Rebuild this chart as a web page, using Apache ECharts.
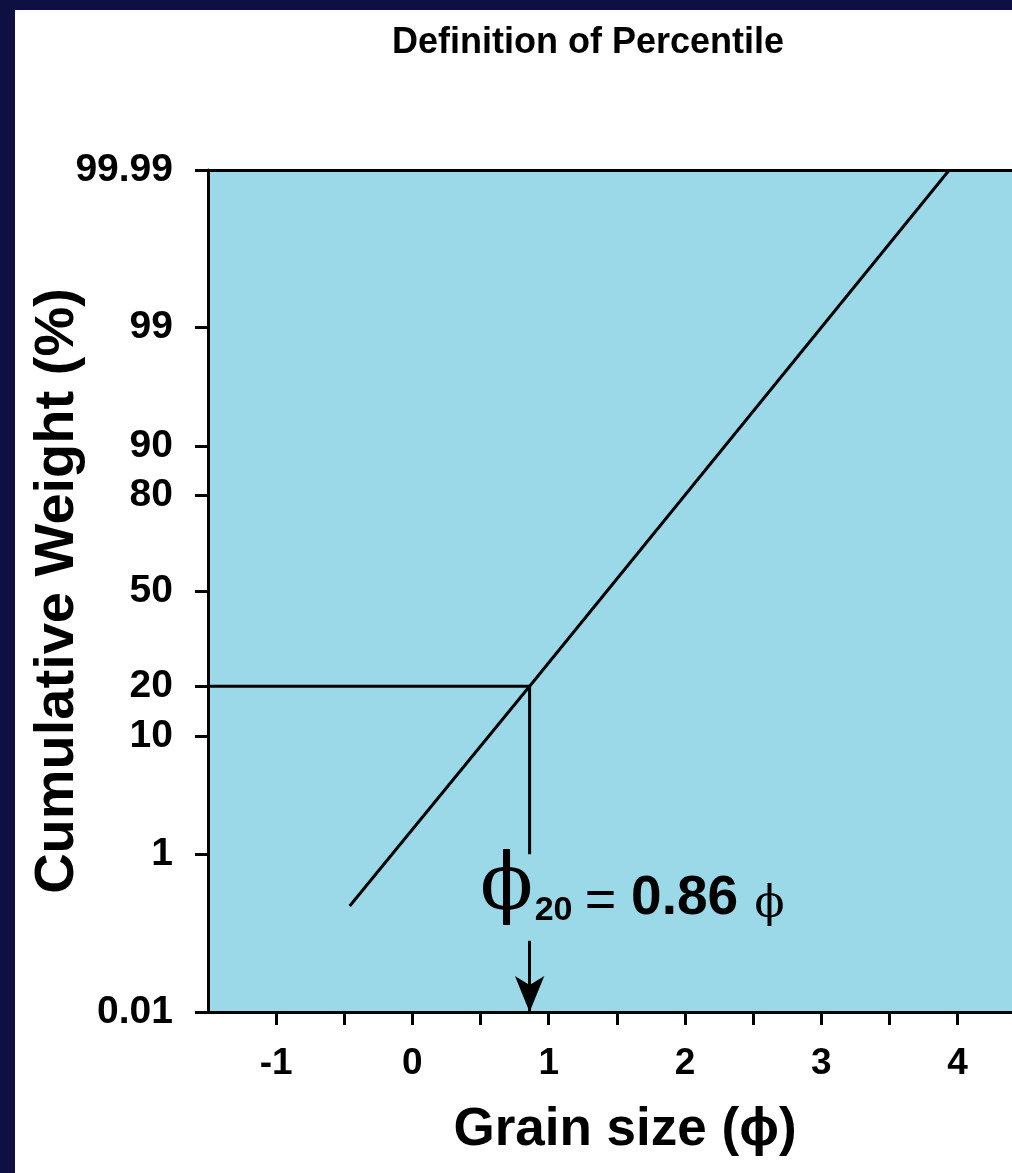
<!DOCTYPE html>
<html>
<head>
<meta charset="utf-8">
<script src="https://cdn.jsdelivr.net/npm/echarts@6/dist/echarts.min.js"></script>
<style>
html,body{margin:0;padding:0;background:#0d1040;}
#chart{width:1012px;height:1173px;}
</style>
</head>
<body>
<div id="chart"></div>
<script>
// ---- data (percent values on a probability scale) ----
const yTickPercents = [0.01, 1, 10, 20, 50, 80, 90, 99, 99.99];
const yTickLabels = ['0.01', '1', '10', '20', '50', '80', '90', '99', '99.99'];
const xTickLabels = [-1, 0, 1, 2, 3, 4];
const xMinorTicks = [-1, -0.5, 0, 0.5, 1, 1.5, 2, 2.5, 3, 3.5, 4];

const lineX = [-0.46, 0.86, 3.94];
const lineP = [0.27, 20, 99.99];

const crossX = [-1.5, 0.86, 0.86];
const crossP = [20, 20, 1];

const arrowX = [0.86, 0.86];
const arrowP = [0.1, 0.01];

const phi20Value = 0.86;
const annotP = 0.41;

// inverse normal CDF (probability-scale transform)
function probit(p) {
  const a = [-3.969683028665376e+01, 2.209460984245205e+02, -2.759285104469687e+02, 1.383577518672690e+02, -3.066479806614716e+01, 2.506628277459239e+00];
  const b = [-5.447609879822406e+01, 1.615858368580409e+02, -1.556989798598866e+02, 6.680131188771972e+01, -1.328068155288572e+01];
  const c = [-7.784894002430293e-03, -3.223964580411365e-01, -2.400758277161838e+00, -2.549732539343734e+00, 4.374664141464968e+00, 2.938163982698783e+00];
  const d = [7.784695709041462e-03, 3.224671290700398e-01, 2.445134137142996e+00, 3.754408661907416e+00];
  const plow = 0.02425, phigh = 1 - plow;
  let q, r;
  if (p < plow) {
    q = Math.sqrt(-2 * Math.log(p));
    return (((((c[0]*q+c[1])*q+c[2])*q+c[3])*q+c[4])*q+c[5]) / ((((d[0]*q+d[1])*q+d[2])*q+d[3])*q+1);
  } else if (p <= phigh) {
    q = p - 0.5; r = q*q;
    return (((((a[0]*r+a[1])*r+a[2])*r+a[3])*r+a[4])*r+a[5])*q / (((((b[0]*r+b[1])*r+b[2])*r+b[3])*r+b[4])*r+1);
  } else {
    q = Math.sqrt(-2 * Math.log(1 - p));
    return -(((((c[0]*q+c[1])*q+c[2])*q+c[3])*q+c[4])*q+c[5]) / ((((d[0]*q+d[1])*q+d[2])*q+d[3])*q+1);
  }
}
const z = pct => probit(pct / 100);
const yTickZ = yTickPercents.map(z);
const pairs = (xs, ps) => xs.map((x, i) => [x, z(ps[i])]);

const SANS = '"Liberation Sans", Arial, Helvetica, sans-serif';
const SERIF = '"DejaVu Serif", "Liberation Serif", serif';

const chart = echarts.init(document.getElementById('chart'), null, {renderer: 'canvas'});
const annotCoord = [phi20Value, z(annotP)];
const frag = (text, off, style) => ({
  coord: annotCoord,
  symbolSize: 0,
  label: Object.assign({show: true, formatter: text, position: 'inside', offset: off,
    align: 'center', verticalAlign: 'middle', color: '#000'}, style)
});

const X_MIN = -1.5, X_MAX = 4.4;

chart.setOption({
  animation: false,
  backgroundColor: '#0d1040',
  graphic: [{
    type: 'rect', left: 15, top: 10, z: -100,
    shape: {width: 997, height: 1163},
    style: {fill: '#ffffff'}
  }],
  title: {
    text: 'Definition of Percentile',
    left: 392, top: 25, padding: 0,
    textStyle: {fontFamily: SANS, fontWeight: 'bold', fontSize: 36, color: '#000'}
  },
  grid: {
    left: 208, top: 170, right: 0, bottom: 161,
    show: true, backgroundColor: '#9bd8e8', borderWidth: 0,
    containLabel: false
  },
  xAxis: [{
    type: 'value', min: X_MIN, max: X_MAX,
    name: 'Grain size (ϕ)', nameLocation: 'middle', nameGap: 92, nameMoveOverlap: false,
    nameTextStyle: {fontFamily: SANS, fontWeight: 'bold', fontSize: 53, color: '#000', padding: [0, 0, 0, 30]},
    axisLine: {show: true, onZero: false, lineStyle: {color: '#000', width: 3}},
    axisTick: {show: true, inside: false, length: 13, lineStyle: {color: '#000', width: 3}, customValues: xMinorTicks},
    axisLabel: {show: true, margin: 33, customValues: xTickLabels,
      fontFamily: SANS, fontWeight: 'bold', fontSize: 37, color: '#000',
      formatter: v => String(Math.round(v))},
    splitLine: {show: false}
  }, {
    type: 'value', min: X_MIN, max: X_MAX, position: 'top',
    axisLine: {show: true, onZero: false, lineStyle: {color: '#000', width: 3}},
    axisTick: {show: false}, axisLabel: {show: false}, splitLine: {show: false}
  }],
  yAxis: {
    type: 'value', min: z(0.01), max: z(99.99),
    name: 'Cumulative Weight (%)', nameLocation: 'middle', nameGap: 122, nameMoveOverlap: false,
    nameTextStyle: {fontFamily: SANS, fontWeight: 'bold', fontSize: 56, color: '#000'},
    axisLine: {show: true, onZero: false, lineStyle: {color: '#000', width: 3}},
    axisTick: {show: true, inside: false, length: 13, lineStyle: {color: '#000', width: 3}, customValues: yTickZ},
    axisLabel: {show: true, margin: 35, customValues: yTickZ,
      fontFamily: SANS, fontWeight: 'bold', fontSize: 39, color: '#000',
      formatter: v => {
        let best = 0, bd = Infinity;
        yTickZ.forEach((t, i) => { const dd = Math.abs(t - v); if (dd < bd) { bd = dd; best = i; } });
        return yTickLabels[best];
      }},
    splitLine: {show: false}
  },
  series: [
    {
      type: 'line', name: 'cumulative', data: pairs(lineX, lineP),
      symbol: 'none', lineStyle: {color: '#000', width: 3}, z: 5
    },
    {
      type: 'line', name: 'percentile', data: pairs(crossX, crossP),
      symbol: 'none', lineStyle: {color: '#000', width: 3}, z: 5,
      markLine: {
        silent: true, symbol: ['none', 'arrow'], symbolSize: [22, 36],
        lineStyle: {color: '#000', width: 3, type: 'solid'},
        label: {show: false},
        data: [[{coord: [arrowX[0], z(arrowP[0])]}, {coord: [arrowX[1], z(arrowP[1])]}]]
      },
      markPoint: {
        silent: true,
        data: [
          frag('ϕ', [-23, -2], {fontFamily: SERIF, fontSize: 78}),
          frag('20', [24, 20], {fontFamily: SANS, fontWeight: 'bold', fontSize: 34}),
          frag('=', [71, 12], {fontFamily: SANS, fontSize: 54}),
          frag('0.86', [155, 9], {fontFamily: SANS, fontWeight: 'bold', fontSize: 55}),
          frag('ϕ', [240, 15], {fontFamily: SERIF, fontSize: 44})
        ]
      }
    }
  ]
});
</script>
</body>
</html>
